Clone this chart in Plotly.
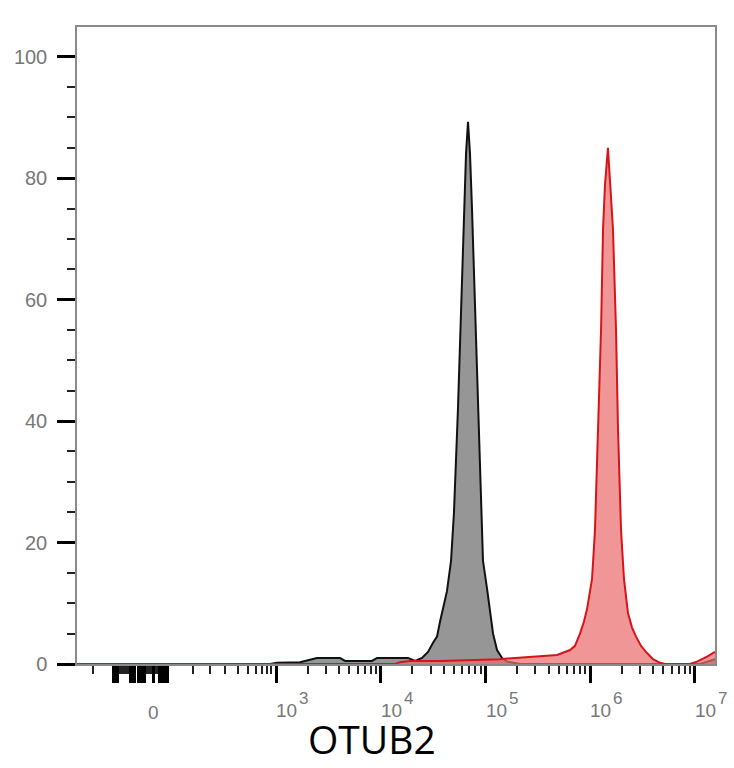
import numpy as np
import plotly.graph_objects as go

# x values are in display decades (log10 of intensity on the biexponential axis)
gray_x = [1.100, 2.943, 3.010, 3.229, 3.277, 3.391, 3.611, 3.659, 3.916, 3.964, 4.260,
          4.327, 4.394, 4.451, 4.499, 4.537, 4.566, 4.594, 4.632, 4.671, 4.699, 4.737,
          4.766, 4.795, 4.814, 4.833, 4.852, 4.871, 4.900, 4.928, 4.957, 4.976, 5.014,
          5.043, 5.072, 5.110, 5.158, 5.205, 5.253, 5.329, 7.048, 7.095, 7.191]
gray_y = [0, 0, 0.2, 0.3, 0.5, 1.0, 1.0, 0.5, 0.5, 1.0, 1.0,
          0.5, 1.0, 2.0, 3.5, 4.5, 7.0, 9.0, 12.0, 17.0, 25.0, 42.0,
          58.0, 75.0, 84.0, 89.3, 84.0, 75.0, 58.0, 42.0, 25.0, 17.0, 12.5,
          8.5, 5.0, 2.3, 1.0, 0.4, 0.2, 0, 0, 0.3, 0.8]

red_x = [1.100, 4.136, 4.184, 4.279, 4.566, 4.852, 5.138, 5.282, 5.492, 5.683, 5.807,
         5.854, 5.902, 5.940, 5.969, 5.998, 6.017, 6.045, 6.074, 6.103, 6.122, 6.141,
         6.169, 6.189, 6.217, 6.246, 6.265, 6.294, 6.322, 6.360, 6.399, 6.437, 6.484,
         6.542, 6.599, 6.666, 6.714, 6.952, 7.019, 7.115, 7.191]
red_y = [0, 0, 0.3, 0.5, 0.5, 0.6, 0.8, 1.0, 1.2, 1.5, 2.3,
         3.0, 5.0, 7.0, 9.0, 12.0, 14.0, 22.0, 38.6, 55.0, 71.6, 79.0,
         85.0, 80.0, 71.6, 55.0, 38.6, 22.0, 14.0, 8.4, 6.0, 4.5, 3.0,
         1.8, 0.8, 0.2, 0, 0, 0.4, 1.2, 2.0]

# axis ticks / labels
zero_pos = 1.835
zero_label = "0"
decades = [3, 4, 5, 6, 7]
decade_base = "10"
decade_exponents = ["3", "4", "5", "6", "7"]
linear_minor = [1.253, 2.208, 2.370, 2.513, 2.637, 2.733, 2.809, 2.866, 2.914, 2.952]
cluster_ranges = [(1.444, 1.654), (1.683, 1.969)]
cluster_long_ranges = [(1.446, 1.490), (1.612, 1.652), (1.686, 1.748), (1.888, 1.966)]
y_ticks = [0, 20, 40, 60, 80, 100]
x_title = "OTUB2"

x_range = [1.100, 7.191]
y_range = [0, 104.9]

minor_x = list(linear_minor)
for a, b in cluster_ranges:
    minor_x += list(np.arange(a, b, 0.011))
for d in decades[:-1]:
    for m in range(2, 10):
        minor_x.append(d + np.log10(m))
major_x = [zero_pos] + decades
for a, b in cluster_long_ranges:
    major_x += list(np.arange(a, b, 0.018))

fig = go.Figure()
fig.add_trace(go.Scatter(x=gray_x, y=gray_y, mode="lines", fill="tozeroy",
                         line=dict(color="#111111", width=2),
                         fillcolor="rgb(150,150,150)", showlegend=False))
fig.add_trace(go.Scatter(x=red_x, y=red_y, mode="lines", fill="tozeroy",
                         line=dict(color="rgb(215,20,25)", width=2),
                         fillcolor="rgba(235,110,110,0.72)", showlegend=False))

fig.update_layout(
    width=734, height=768,
    margin=dict(l=77, r=19, t=27, b=104),
    paper_bgcolor="white", plot_bgcolor="white",
    font=dict(family="Liberation Sans, Arial, sans-serif"),
)
fig.update_xaxes(
    range=x_range, showgrid=False, zeroline=False,
    showline=True, linecolor="#8a8a8a", linewidth=1.5, mirror=True,
    tickmode="array", tickvals=major_x, showticklabels=False,
    ticks="outside", ticklen=17, tickwidth=3, tickcolor="black",
    minor=dict(tickmode="array", tickvals=minor_x, ticks="outside",
               ticklen=8, tickwidth=1.5, tickcolor="#222222", showgrid=False),
)
fig.update_yaxes(
    range=y_range, showgrid=False, zeroline=False,
    showline=True, linecolor="#8a8a8a", linewidth=1.5, mirror=True,
    tickmode="array", tickvals=y_ticks,
    ticks="outside", ticklen=18, tickwidth=3, tickcolor="black",
    tickfont=dict(size=20, color="#777777"), ticklabelstandoff=6,
    minor=dict(dtick=5, ticks="outside", ticklen=8, tickwidth=1.5,
               tickcolor="#222222", showgrid=False),
)

lab_font = dict(size=19, color="#777777", family="Liberation Sans, Arial, sans-serif")
fig.add_annotation(x=zero_pos, xref="x", y=-0.0761, yref="paper", text=zero_label,
                   showarrow=False, xanchor="center", yanchor="middle", font=lab_font)
for pos, ex in zip(decades, decade_exponents):
    fig.add_annotation(x=pos, xref="x", y=-0.0725, yref="paper", text=decade_base,
                       showarrow=False, xanchor="left", yanchor="middle", xshift=-2,
                       font=lab_font)
    fig.add_annotation(x=pos, xref="x", y=-0.0535, yref="paper", text=ex,
                       showarrow=False, xanchor="left", yanchor="middle", xshift=21,
                       font=dict(size=17, color="#777777",
                                 family="Liberation Sans, Arial, sans-serif"))

fig.add_annotation(x=0.4624, xref="paper", y=-0.1175, yref="paper",
                   text=x_title, showarrow=False, xanchor="center", yanchor="middle",
                   font=dict(size=39, color="black", family="Open Sans"))

fig.write_html("out.html")
